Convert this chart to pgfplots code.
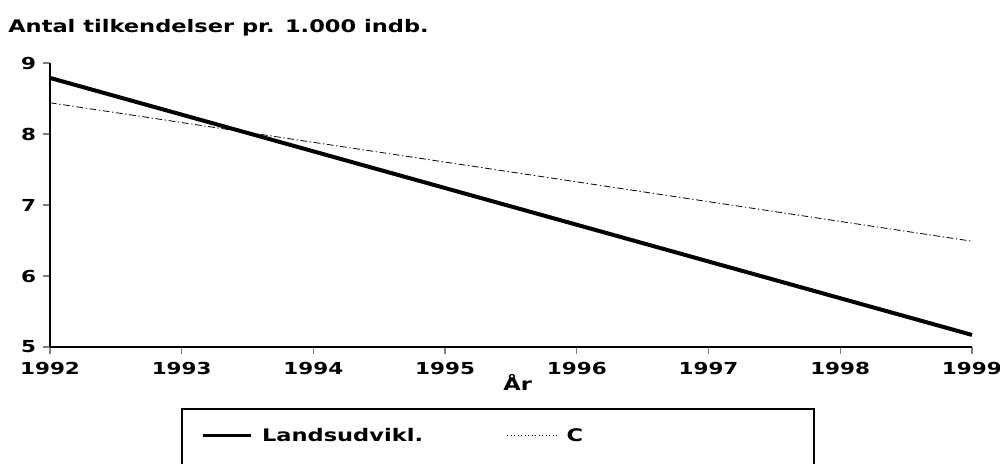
\documentclass[border=0pt]{standalone}
\usepackage{fontspec}
\setmainfont{DejaVu Sans}[FakeStretch=1.3]
\usepackage{pgfplots}
\pgfplotsset{compat=1.18}
\newcommand{\chartfont}{\bfseries\fontsize{13}{15}\selectfont}
\newcommand{\tickfont}{\bfseries\fontsize{12.4}{15}\selectfont}

\begin{document}
\begin{tikzpicture}
\begin{axis}[
    at={(0,0)}, anchor=south west,
    scale only axis,
    width=691.5pt, height=213pt,
    xmin=1992, xmax=1999, ymin=5, ymax=9,
    axis x line*=bottom, axis y line*=left,
    axis line style={black, line width=1.5pt, -},
    xtick={1992,...,1999}, ytick={5,6,7,8,9},
    tick style={gray, line width=1pt},
    tick align=outside, major tick length=5pt,
    x tick label style={/pgf/number format/1000 sep={}, yshift=-3pt},
    y tick label style={xshift=-2pt},
    tick label style={font=\tickfont},
    /pgf/number format/assume math mode=true,
    xlabel={År}, xlabel style={font=\chartfont, yshift=7pt, xshift=5pt},
    clip=false,
    legend columns=2,
    legend style={at={(0.16,-0.313)}, anchor=west, draw=none, fill=none,
        font=\chartfont,
        /tikz/every even column/.style={column sep=56pt},
        nodes={inner xsep=7pt}},
]
\addplot[black, line width=3pt, legend image code/.code={\draw[black, line width=2.2pt] (0pt,0pt) -- (36pt,0pt);}]
    coordinates {(1992,8.79) (1999,5.17)};
\addlegendentry{Landsudvikl.}
\addplot[black, line width=0.6pt, dash pattern=on 5pt off 2pt on 1pt off 2pt,
    legend image code/.code={\draw[black, line width=0.6pt, dotted] (0pt,0pt) -- (37pt,0pt);}]
    coordinates {(1992,8.44) (1999,6.49)};
\addlegendentry{C}
\end{axis}
\node[anchor=base west, font=\chartfont, inner sep=0pt] at (-31.5pt,236pt) {Antal tilkendelser pr. 1.000 indb.};
\draw[black, line width=1.5pt] (99pt,-100pt) -- (99pt,-46.5pt) -- (573pt,-46.5pt) -- (573pt,-100pt);
\pgfresetboundingbox
\useasboundingbox (-37.5pt,-87.75pt) rectangle (712.5pt,260.25pt);
\end{tikzpicture}
\end{document}
